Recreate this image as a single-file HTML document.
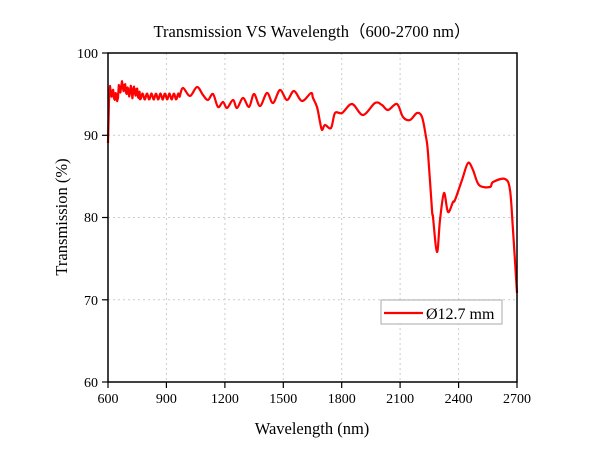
<!DOCTYPE html>
<html><head><meta charset="utf-8"><style>
body{margin:0;background:#fff}
svg{display:block;font-family:"Liberation Serif",serif}
</style></head><body>
<svg id="s" width="600" height="459" viewBox="0 0 600 459">
<g stroke="#ccc" stroke-dasharray="2,3" stroke-width="1">
<line x1="166.4" y1="53" x2="166.4" y2="382"/><line x1="224.9" y1="53" x2="224.9" y2="382"/>
<line x1="283.3" y1="53" x2="283.3" y2="382"/><line x1="341.7" y1="53" x2="341.7" y2="382"/>
<line x1="400.1" y1="53" x2="400.1" y2="382"/><line x1="458.6" y1="53" x2="458.6" y2="382"/>
<line x1="108" y1="135.3" x2="517" y2="135.3"/><line x1="108" y1="217.5" x2="517" y2="217.5"/>
<line x1="108" y1="299.8" x2="517" y2="299.8"/>
</g>
<path id="c" fill="none" stroke="#f00" stroke-width="2.2" stroke-linejoin="round"/>
<rect x="108" y="53" width="409" height="329" fill="none" stroke="#000" stroke-width="1.5"/>
<g stroke="#000" stroke-width="1.2">
<line x1="108" y1="382" x2="108" y2="388"/><line x1="166.4" y1="382" x2="166.4" y2="388"/><line x1="224.9" y1="382" x2="224.9" y2="388"/><line x1="283.3" y1="382" x2="283.3" y2="388"/><line x1="341.7" y1="382" x2="341.7" y2="388"/><line x1="400.1" y1="382" x2="400.1" y2="388"/><line x1="458.6" y1="382" x2="458.6" y2="388"/><line x1="517" y1="382" x2="517" y2="388"/>
<line x1="102" y1="53" x2="108" y2="53"/><line x1="102" y1="135.3" x2="108" y2="135.3"/><line x1="102" y1="217.5" x2="108" y2="217.5"/><line x1="102" y1="299.8" x2="108" y2="299.8"/><line x1="102" y1="382" x2="108" y2="382"/>
</g>
<g font-size="14" text-anchor="middle">
<text x="108" y="403">600</text><text x="166.4" y="403">900</text><text x="224.9" y="403">1200</text><text x="283.3" y="403">1500</text><text x="341.7" y="403">1800</text><text x="400.1" y="403">2100</text><text x="458.6" y="403">2400</text><text x="517" y="403">2700</text>
</g>
<g font-size="14" text-anchor="end">
<text x="98" y="58">100</text><text x="98" y="140">90</text><text x="98" y="222">80</text><text x="98" y="305">70</text><text x="98" y="387">60</text>
</g>
<text x="312" y="37" font-size="16.5" text-anchor="middle">Transmission VS Wavelength（600-2700 nm）</text>
<text x="312" y="434" font-size="16.5" text-anchor="middle">Wavelength (nm)</text>
<text transform="translate(67,217) rotate(-90)" font-size="16.5" text-anchor="middle">Transmission (%)</text>
<rect x="381" y="300" width="121" height="24" fill="#fff" stroke="#aaa" stroke-width="1"/>
<line x1="384" y1="313" x2="423" y2="313" stroke="#f00" stroke-width="2.2"/>
<text x="426" y="319" font-size="16">Ø12.7 mm</text>
</svg>
<script>
var p=[[108,143],[109,100]];
for(var x=110;x<140;x+=0.8){p.push([x,94+Math.sin(x*2.1)*5+Math.sin(x*0.5)*3-(x>118&&x<132?5:0)]);}
for(var x=140;x<180;x+=0.6){p.push([x,96.5+Math.sin(x*1.4)*3]);}
var q=[[183,88],[190,96],[197,87],[203,95],[208,100],[213,94],[218,107],[223,102],[227,108],[233,100],[237,108],[243,98],[249,107],[254,94],[260,106],[267,93],[273,103],[280,90],[287,100],[294,91],[302,101],[311,93],[313,98],[317,107],[320,122],[322,130],[325,125],[331,128],[335,113],[342,113],[352,104],[363,115],[375,103],[382,105],[388,110],[397,104],[403,117],[410,120],[417,113],[422,117],[426,137],[428,153],[432,210],[433,217],[437,252],[440,220],[444,193],[448,212],[453,202],[455,200],[462,180],[468,163],[473,170],[479,185],[490,187],[493,182],[505,179],[510,190],[513,230],[517,293]];
var d='M'+p.map(function(a){return a[0].toFixed(1)+','+a[1].toFixed(1)}).join('L');
var r=[p[p.length-1]].concat(q);
for(var i=0;i<r.length-1;i++){
 var p0=r[Math.max(0,i-1)],p1=r[i],p2=r[i+1],p3=r[Math.min(r.length-1,i+2)];
 var c1=[p1[0]+(p2[0]-p0[0])/6,p1[1]+(p2[1]-p0[1])/6],c2=[p2[0]-(p3[0]-p1[0])/6,p2[1]-(p3[1]-p1[1])/6];
 d+='C'+c1[0].toFixed(1)+','+c1[1].toFixed(1)+' '+c2[0].toFixed(1)+','+c2[1].toFixed(1)+' '+p2[0]+','+p2[1];
}
document.getElementById('c').setAttribute('d',d);
</script>
</body></html>
